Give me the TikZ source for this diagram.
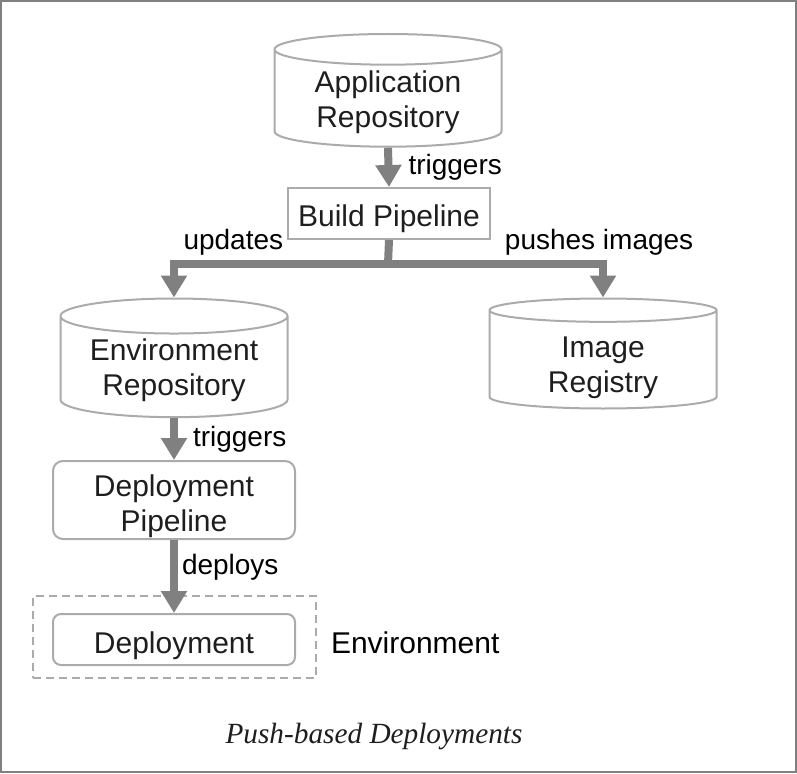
\documentclass[tikz,border=0pt]{standalone}
\usepackage{fontspec}
\setmainfont{Liberation Sans}
\newfontfamily\captionfont{Liberation Serif}
\usetikzlibrary{shapes.geometric,arrows.meta}
\definecolor{boxgray}{HTML}{ABABAB}
\definecolor{flowgray}{HTML}{808080}
\definecolor{inkgray}{HTML}{1E1E1E}
\tikzset{store/.style={cylinder,shape border rotate=90,draw=boxgray,line width=2pt,aspect=0.2,minimum width=227pt,minimum height=110pt,align=center,text=inkgray,anchor=north,font=\fontsize{30}{34.5}\selectfont}}
\tikzset{stage/.style={rectangle,draw=boxgray,line width=2pt,align=center,text=inkgray,font=\fontsize{30}{34.5}\selectfont}}
\tikzset{oneline/.style={text height=26pt,text depth=0pt}}
\tikzset{flowline/.style={draw=flowgray,line width=8pt}}
\tikzset{flow/.style={flowline,-{Triangle[width=25pt,length=22pt]}}}
\tikzset{flowlabel/.style={text=black,font=\fontsize{28}{33}\selectfont,inner sep=0pt,outer sep=0pt}}

\begin{document}
\begin{tikzpicture}[x=1pt,y=-1pt]
\useasboundingbox (0,0) rectangle (797,773);
\draw[flowgray,line width=2pt](1,1) rectangle (796,772);
\node[store,text height=58pt,text depth=4.7pt](apprepo) at (388,33) {Application\\Repository};
\node[stage,oneline,minimum width=202pt,minimum height=51pt](build) at (389,213.5) {Build Pipeline};
\node[store,text height=57.5pt,text depth=5.2pt](envrepo) at (174,297.5) {Environment\\Repository};
\node[store,text height=62.5pt,text depth=0.2pt](imgreg) at (603,297.5) {Image\\Registry};
\node[stage,rounded corners=10pt,text height=62.4pt,text depth=0.3pt,minimum width=242pt,minimum height=78pt](deppipe) at (174,500) {Deployment\\Pipeline};
\node[stage,oneline,text height=27pt,rounded corners=8pt,minimum width=242pt,minimum height=51pt](deploy) at (174,639.5) {Deployment};
\node[draw=boxgray,line width=1.5pt,dash pattern=on 8pt off 5pt,minimum width=283pt,minimum height=82pt](envbox) at (174.5,637) {};
\node[flowlabel,oneline,text height=27pt,font=\fontsize{30}{34.5}\selectfont,anchor=west](envlabel) at (331,639.5) {Environment};
\node[text=inkgray,font=\captionfont\itshape\fontsize{29.3}{34}\selectfont](caption) at (374,736) {Push-based Deployments};
\coordinate (split) at (388,264);
\draw[flow](apprepo.south) -- (build.north) node[flowlabel,midway,anchor=west,xshift=20pt] {triggers};
\draw[flowline](build.south) -- (split);
\draw[flow](split) -| (envrepo.north) node[flowlabel,pos=0.245,anchor=east,yshift=22pt] {updates};
\draw[flow](split) -| (imgreg.north) node[flowlabel,pos=0.272,anchor=west,yshift=22pt] {pushes images};
\draw[flow](envrepo.south) -- (deppipe.north) node[flowlabel,midway,anchor=west,xshift=19pt] {triggers};
\draw[flow](deppipe.south) -- (deploy.north) node[flowlabel,pos=0.37,anchor=west,xshift=8pt] {deploys};
\end{tikzpicture}
\end{document}
